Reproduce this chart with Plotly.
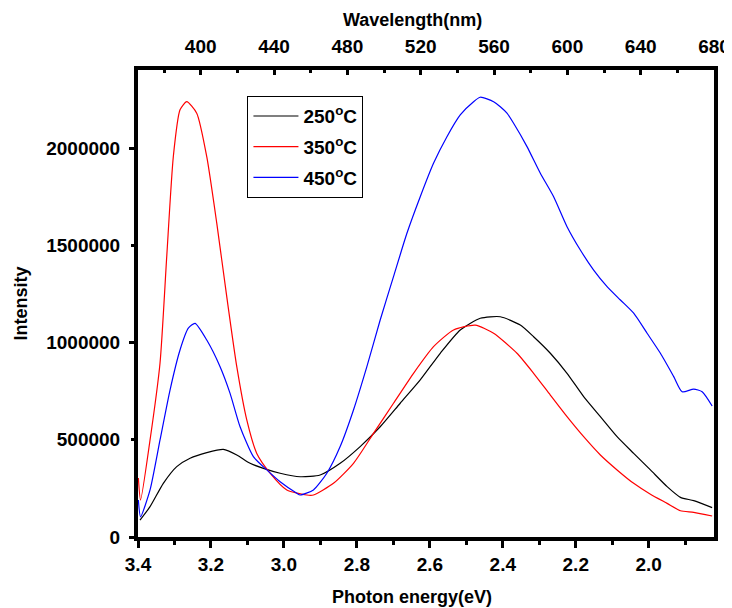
import plotly.graph_objects as go

# ---- data ----
e_250 = [3.3945, 3.367, 3.3306, 3.2938, 3.2573, 3.2115, 3.166, 3.1292, 3.0927, 3.0562,
         3.0104, 2.9556, 2.9007, 2.8458, 2.791, 2.7361, 2.6812, 2.6263, 2.5715, 2.5166,
         2.4617, 2.4068, 2.352, 2.3155, 2.2697, 2.2239, 2.1783, 2.1325, 2.0867, 2.0412,
         1.9953, 1.9495, 1.913, 1.8766, 1.8261]
i_250 = [87e3, 156e3, 276e3, 362e3, 405e3, 434e3, 451e3, 422e3, 379e3, 353e3,
         328e3, 310e3, 319e3, 379e3, 465e3, 567e3, 688e3, 808e3, 945e3, 1065e3,
         1125e3, 1133e3, 1090e3, 1030e3, 945e3, 842e3, 722e3, 619e3, 516e3, 430e3,
         345e3, 259e3, 204e3, 187e3, 151e3]

e_350 = [3.399, 3.393, 3.367, 3.3396, 3.3213, 3.3032, 3.2848, 3.2664, 3.239, 3.2115,
         3.1841, 3.1567, 3.1292, 3.1018, 3.0744, 3.0379, 2.992, 2.9372, 2.9191, 2.8642,
         2.8093, 2.7545, 2.6996, 2.6447, 2.5899, 2.535, 2.4754, 2.4252, 2.3611, 2.3155,
         2.2697, 2.2239, 2.1783, 2.1325, 2.0867, 2.0412, 1.9953, 1.9495, 1.913, 1.8766,
         1.8261]
i_350 = [303e3, 190e3, 499e3, 895e3, 1440e3, 1956e3, 2197e3, 2239e3, 2180e3, 1956e3,
         1614e3, 1236e3, 876e3, 602e3, 430e3, 329e3, 242e3, 216e3, 216e3, 276e3,
         379e3, 533e3, 688e3, 842e3, 979e3, 1065e3, 1090e3, 1048e3, 945e3, 842e3,
         730e3, 619e3, 516e3, 422e3, 345e3, 276e3, 220e3, 173e3, 135e3, 127e3,
         108e3]

e_450 = [3.399, 3.393, 3.367, 3.3396, 3.3122, 3.2848, 3.262, 3.2436, 3.2115, 3.175,
         3.1476, 3.1202, 3.0837, 3.0469, 3.0104, 2.9646, 2.9556, 2.9191, 2.8823, 2.8458,
         2.8093, 2.7726, 2.7361, 2.6996, 2.6628, 2.6263, 2.5899, 2.5531, 2.5166, 2.4801,
         2.4617, 2.4252, 2.4068, 2.3885, 2.3704, 2.3336, 2.2971, 2.2606, 2.2239, 2.1874,
         2.1509, 2.1141, 2.0776, 2.0412, 2.0044, 1.9679, 1.9314, 1.9084, 1.8766, 1.8535,
         1.8261]
i_450 = [190e3, 104e3, 242e3, 499e3, 756e3, 962e3, 1074e3, 1099e3, 1013e3, 876e3,
         739e3, 567e3, 413e3, 345e3, 284e3, 225e3, 216e3, 242e3, 328e3, 465e3,
         653e3, 876e3, 1116e3, 1339e3, 1562e3, 1750e3, 1922e3, 2059e3, 2171e3, 2239e3,
         2262e3, 2239e3, 2213e3, 2180e3, 2128e3, 2008e3, 1871e3, 1750e3, 1596e3, 1476e3,
         1373e3, 1288e3, 1219e3, 1151e3, 1048e3, 945e3, 825e3, 747e3, 761e3, 747e3,
         674e3]

series_names = ["250<sup>o</sup>C", "350<sup>o</sup>C", "450<sup>o</sup>C"]
series_colors = ["#000000", "#ff0000", "#0000ff"]

y_tick_vals = [0, 500000, 1000000, 1500000, 2000000]
y_tick_text = ["0", "500000", "1000000", "1500000", "2000000"]
y_major_vals = [0, 1000000, 2000000]
e_tick_vals = [3.4, 3.2, 3.0, 2.8, 2.6, 2.4, 2.2, 2.0]
e_tick_text = ["3.4", "3.2", "3.0", "2.8", "2.6", "2.4", "2.2", "2.0"]
e_minor_vals = [3.3, 3.1, 2.9, 2.7, 2.5, 2.3, 2.1, 1.9]
wl_tick_vals = [400, 440, 480, 520, 560, 600, 640, 680]
wl_minor_vals = [380, 420, 460, 500, 540, 580, 620, 660]

FONT = "Liberation Sans, Arial, sans-serif"
TICKFONT = dict(family=FONT, size=19, color="black", weight="bold")
TITLEFONT = dict(family=FONT, size=18, color="black", weight="bold")

fig = go.Figure()
for k, (xs, ys, name, col) in enumerate(zip([e_250, e_350, e_450], [i_250, i_350, i_450],
                                            series_names, series_colors)):
    fig.add_trace(go.Scatter(x=xs, y=ys, mode="lines", name=name, legendgroup=str(k),
                             line=dict(color=col, width=1.2, shape="spline", smoothing=0.6)))

# invisible traces to activate top wavelength axis and long y ticks
fig.add_trace(go.Scatter(x=[400], y=[None], xaxis="x2", yaxis="y",
                         showlegend=False, hoverinfo="skip"))
fig.add_trace(go.Scatter(x=[3.0], y=[None], xaxis="x", yaxis="y2",
                         showlegend=False, hoverinfo="skip"))

# the page body adds an 8px offset, so the figure is 8px smaller on each side
fig.update_layout(
    width=724, height=600,
    margin=dict(l=130, r=18, t=62, b=71, autoexpand=False),
    paper_bgcolor="white", plot_bgcolor="white",
    font=dict(family=FONT, size=18, color="black", weight="bold"),
    showlegend=True,
    legend=dict(x=0.19, y=0.944, xanchor="left", yanchor="top",
                bgcolor="white", bordercolor="black", borderwidth=1,
                font=dict(family=FONT, size=19, color="black", weight="bold"),
                traceorder="grouped", tracegroupgap=3, itemwidth=45),
    xaxis=dict(range=[3.4, 1.821], tickmode="array",
               tickvals=e_tick_vals, ticktext=e_tick_text, tickfont=TICKFONT,
               ticks="outside", ticklen=7, tickwidth=3, tickcolor="black",
               minor=dict(tickvals=e_minor_vals,
                          ticks="outside", ticklen=4, tickwidth=3, tickcolor="black"),
               showline=True, linewidth=4, linecolor="black", mirror=False,
               showgrid=False, zeroline=False, automargin=False),
    xaxis2=dict(range=[365.8, 680], overlaying="x", side="top", anchor="y",
                tickmode="array", tickvals=wl_tick_vals, tickfont=TICKFONT,
                ticks="inside", ticklen=5, tickwidth=3, tickcolor="black",
                minor=dict(tickvals=wl_minor_vals,
                           ticks="inside", ticklen=3, tickwidth=3, tickcolor="black"),
                showline=True, linewidth=4, linecolor="black",
                showgrid=False, zeroline=False, ticklabelstandoff=5, automargin=False),
    yaxis=dict(range=[0, 2402000], tickmode="array", tickvals=y_tick_vals,
               ticktext=y_tick_text, tickfont=TICKFONT,
               ticks="outside", ticklen=3, tickwidth=3, tickcolor="black",
               showline=True, linewidth=4, linecolor="black", mirror=True,
               showgrid=False, zeroline=False, ticklabelstandoff=7, automargin=False),
    yaxis2=dict(range=[0, 2402000], overlaying="y", side="left", anchor="x",
                tickmode="array", tickvals=y_major_vals, showticklabels=False,
                ticks="outside", ticklen=8, tickwidth=3, tickcolor="black",
                showline=False, showgrid=False, zeroline=False, automargin=False),
    annotations=[
        dict(text="Photon energy(eV)", xref="paper", yref="paper",
             x=0.476, y=(537 - 597) / 467, xanchor="center", yanchor="middle",
             showarrow=False, font=TITLEFONT),
        dict(text="Wavelength(nm)", xref="paper", yref="paper",
             x=0.476, y=(537 - 20) / 467, xanchor="center", yanchor="middle",
             showarrow=False, font=TITLEFONT),
        dict(text="Intensity", xref="paper", yref="paper",
             x=(20 - 138) / 576, y=0.5, xanchor="center", yanchor="middle",
             textangle=-90, showarrow=False, font=TITLEFONT),
    ],
)

fig.write_html("out.html")
